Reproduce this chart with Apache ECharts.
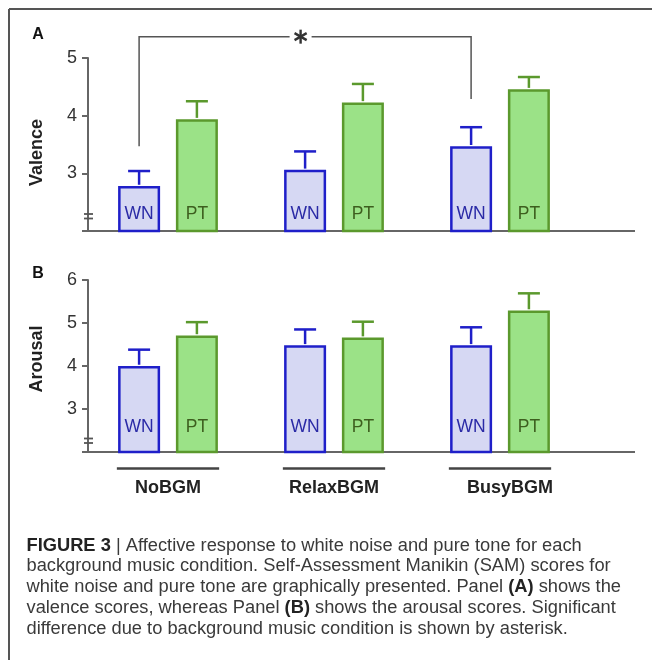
<!DOCTYPE html>
<html><head><meta charset="utf-8">
<script src="https://cdn.jsdelivr.net/npm/echarts@6/dist/echarts.min.js"></script>
<style>html,body{margin:0;padding:0;background:#fff}#c{width:652px;height:660px}</style>
</head><body><div id="c"></div><script>
// ---------- data ----------
const categories = ['NoBGM', 'RelaxBGM', 'BusyBGM'];
const groupNames = ['WN', 'PT'];
const valenceWN = [2.78, 3.06, 3.47];
const valenceWNErr = [0.26, 0.32, 0.33];
const valencePT = [3.94, 4.23, 4.46];
const valencePTErr = [0.31, 0.32, 0.21];
const arousalWN = [4.00, 4.48, 4.48];
const arousalWNErr = [0.38, 0.37, 0.42];
const arousalPT = [4.71, 4.66, 5.29];
const arousalPTErr = [0.31, 0.37, 0.40];
const valenceTicks = [2, 3, 4, 5];
const arousalTicks = [2, 3, 4, 5, 6];
const panelTitles = ['Valence', 'Arousal'];
const panelLetters = ['A', 'B'];
// significance bracket (valence units): left end, top, right end
const sigBracket = [3.47, 5.37, 4.29];
const captionLines = [
  '{b|FIGURE 3}{n| | Affective response to white noise and pure tone for each}',
  '{n|background music condition. Self-Assessment Manikin (SAM) scores for}',
  '{n|white noise and pure tone are graphically presented. Panel }{b|(A)}{n| shows the}',
  '{n|valence scores, whereas Panel }{b|(B)}{n| shows the arousal scores. Significant}',
  '{n|difference due to background music condition is shown by asterisk.}'
];

// ---------- style / layout ----------
const FONT = '"Liberation Sans", Arial, Helvetica, sans-serif';
const GRID_LEFT = 85, GRID_W = 498;
const BAR_W = 42, BAR_GAP = 0.376, BORDER = 2.5;
const HALF = BAR_W * (1 + BAR_GAP) / 2;
const WN_FILL = '#d6d8f3', WN_LINE = '#1f1fc9', WN_TEXT = '#2a2aa6';
const PT_FILL = '#9be287', PT_LINE = '#5b992d', PT_TEXT = '#3d5e1e';
const AXIS_C = '#666';
const CAP_FS = 18.3;

const chart = echarts.init(document.getElementById('c'), null, {renderer: 'canvas'});

function barSeries(name, values, gi, fill, stroke, textColor, dist) {
  return {
    type: 'bar', name: name, xAxisIndex: gi, yAxisIndex: gi, data: values,
    barWidth: BAR_W, barGap: (BAR_GAP * 100) + '%', z: 2,
    itemStyle: {color: fill, borderColor: stroke, borderWidth: BORDER},
    label: {show: true, position: 'insideBottom', distance: dist, formatter: name,
      color: textColor, fontSize: 17.5, fontFamily: FONT}
  };
}
function errSeries(values, errs, gi, sign, stroke) {
  return {
    type: 'custom', xAxisIndex: gi, yAxisIndex: gi, z: 3,
    data: values.map((v, i) => [i, v, errs[i]]),
    renderItem: function (p, api) {
      const b = api.coord([api.value(0), api.value(1)]);
      const t = api.coord([api.value(0), api.value(1) + api.value(2)]);
      const x = b[0] + sign * HALF;
      return {type: 'group', children: [
        {type: 'line', shape: {x1: x, y1: b[1] - BORDER / 2, x2: x, y2: t[1]}, style: {stroke: stroke, lineWidth: 2.5}},
        {type: 'line', shape: {x1: x - 11, y1: t[1], x2: x + 11, y2: t[1]}, style: {stroke: stroke, lineWidth: 2.5}}
      ]};
    }
  };
}
function yAx(gi, ticks) {
  return {
    type: 'value', gridIndex: gi, min: ticks[0], max: ticks[ticks.length - 1], interval: 1, offset: -3,
    axisLine: {show: true, lineStyle: {color: AXIS_C, width: 2}},
    axisTick: {show: true, length: 6, lineStyle: {color: AXIS_C, width: 2}},
    axisLabel: {margin: 11, fontSize: 18, color: '#333', fontFamily: FONT,
      formatter: v => (v === ticks[0] ? '' : String(v))},
    splitLine: {show: false}
  };
}

chart.setOption({
  animation: false,
  backgroundColor: '#fff',
  grid: [
    {left: GRID_LEFT, top: 58, width: GRID_W, height: 173},
    {left: GRID_LEFT, top: 280, width: GRID_W, height: 172}
  ],
  xAxis: [
    {type: 'category', gridIndex: 0, data: categories,
      axisLine: {lineStyle: {color: AXIS_C, width: 2}}, axisTick: {show: false}, axisLabel: {show: false}},
    {type: 'category', gridIndex: 1, data: categories,
      axisLine: {lineStyle: {color: AXIS_C, width: 2}}, axisTick: {show: false},
      axisLabel: {margin: 27, fontSize: 18, fontWeight: 'bold', color: '#222', fontFamily: FONT,
        formatter: (v, i) => (i === 2 ? '{s|' + v + '}' : v),
        rich: {s: {fontSize: 18, fontWeight: 'bold', color: '#222', fontFamily: FONT, padding: [0, 0, 0, 20]}}}}
  ],
  yAxis: [yAx(0, valenceTicks), yAx(1, arousalTicks)],
  series: [
    barSeries(groupNames[0], valenceWN, 0, WN_FILL, WN_LINE, WN_TEXT, 9),
    barSeries(groupNames[1], valencePT, 0, PT_FILL, PT_LINE, PT_TEXT, 9),
    errSeries(valenceWN, valenceWNErr, 0, -1, WN_LINE),
    errSeries(valencePT, valencePTErr, 0, 1, PT_LINE),
    barSeries(groupNames[0], arousalWN, 1, WN_FILL, WN_LINE, WN_TEXT, 17),
    barSeries(groupNames[1], arousalPT, 1, PT_FILL, PT_LINE, PT_TEXT, 17),
    errSeries(arousalWN, arousalWNErr, 1, -1, WN_LINE),
    errSeries(arousalPT, arousalPTErr, 1, 1, PT_LINE)
  ]
});

function px(gi, x, y) { return chart.convertToPixel({xAxisIndex: gi, yAxisIndex: gi}, [x, y]); }

const g = [];
const line = (x1, y1, x2, y2, stroke, w) => g.push({type: 'line', silent: true, z: 10,
  shape: {x1, y1, x2, y2}, style: {stroke, lineWidth: w}});
// frame
line(9, 9, 652, 9, '#555', 2);
line(9, 9, 9, 660, '#555', 2);

const yAxisX = GRID_LEFT + 3;
[valenceTicks, arousalTicks].forEach((ticks, gi) => {
  const by = px(gi, 0, ticks[0])[1];
  // axis line extension
  line(GRID_LEFT + GRID_W, by, 635, by, AXIS_C, 2);
  // axis break marks
  const d = gi === 0 ? [17, 12.5] : [13.5, 9];
  line(yAxisX - 4, by - d[0], yAxisX + 5, by - d[0], '#555', 1.8);
  line(yAxisX - 4, by - d[1], yAxisX + 5, by - d[1], '#555', 1.8);
  // letters & titles
  g.push({type: 'text', x: 38, y: gi === 0 ? 34.5 : 274, z: 10, style: {text: panelLetters[gi],
    font: 'bold 16px ' + FONT, fill: '#111', align: 'center', verticalAlign: 'middle'}});
  g.push({type: 'text', x: 37, y: gi === 0 ? 152.5 : 359, rotation: Math.PI / 2, z: 10,
    style: {text: panelTitles[gi], font: 'bold 18px ' + FONT, fill: '#222', align: 'center', verticalAlign: 'middle'}});
});

// category underlines (panel B)
const byB = px(1, 0, arousalTicks[0])[1];
categories.forEach((c, i) => {
  const cx = px(1, i, arousalTicks[0])[0];
  const hw = HALF + BAR_W / 2 + BORDER / 2;
  line(cx - hw, byB + 16.6, cx + hw, byB + 16.6, '#444', 2.5);
});

// significance bracket (panel A)
const pL = px(0, 0, sigBracket[0]);
const pT = px(0, 0, sigBracket[1]);
const pR = px(0, 2, sigBracket[2]);
const lx = pL[0] - HALF, rx = pR[0] - HALF, ty = pT[1];
const ax = (lx + rx) / 2 - 4.5;
g.push({type: 'polyline', silent: true, z: 10, shape: {points: [[lx, pL[1]], [lx, ty], [ax - 11, ty]]},
  style: {stroke: '#555', lineWidth: 1.5, fill: null}});
g.push({type: 'polyline', silent: true, z: 10, shape: {points: [[ax + 11, ty], [rx, ty], [rx, pR[1]]]},
  style: {stroke: '#555', lineWidth: 1.5, fill: null}});
[90, 30, 150].forEach(deg => {
  const r = deg * Math.PI / 180, L = 7;
  line(ax - L * Math.cos(r), ty - L * Math.sin(r), ax + L * Math.cos(r), ty + L * Math.sin(r), '#333', 2.4);
});

// caption
const rich = {
  b: {fontSize: CAP_FS, fontWeight: 'bold', fontFamily: FONT, fill: '#222', color: '#222'},
  n: {fontSize: CAP_FS, fontFamily: FONT, fill: '#3a3a3a', color: '#3a3a3a'}
};
captionLines.forEach((t, i) => {
  g.push({type: 'text', x: 26.5, y: 545.5 + i * 20.8, z: 10, style: {text: t, rich: rich,
    font: CAP_FS + 'px ' + FONT, fill: '#3a3a3a', align: 'left', verticalAlign: 'middle'}});
});

chart.setOption({graphic: g});
</script></body></html>
